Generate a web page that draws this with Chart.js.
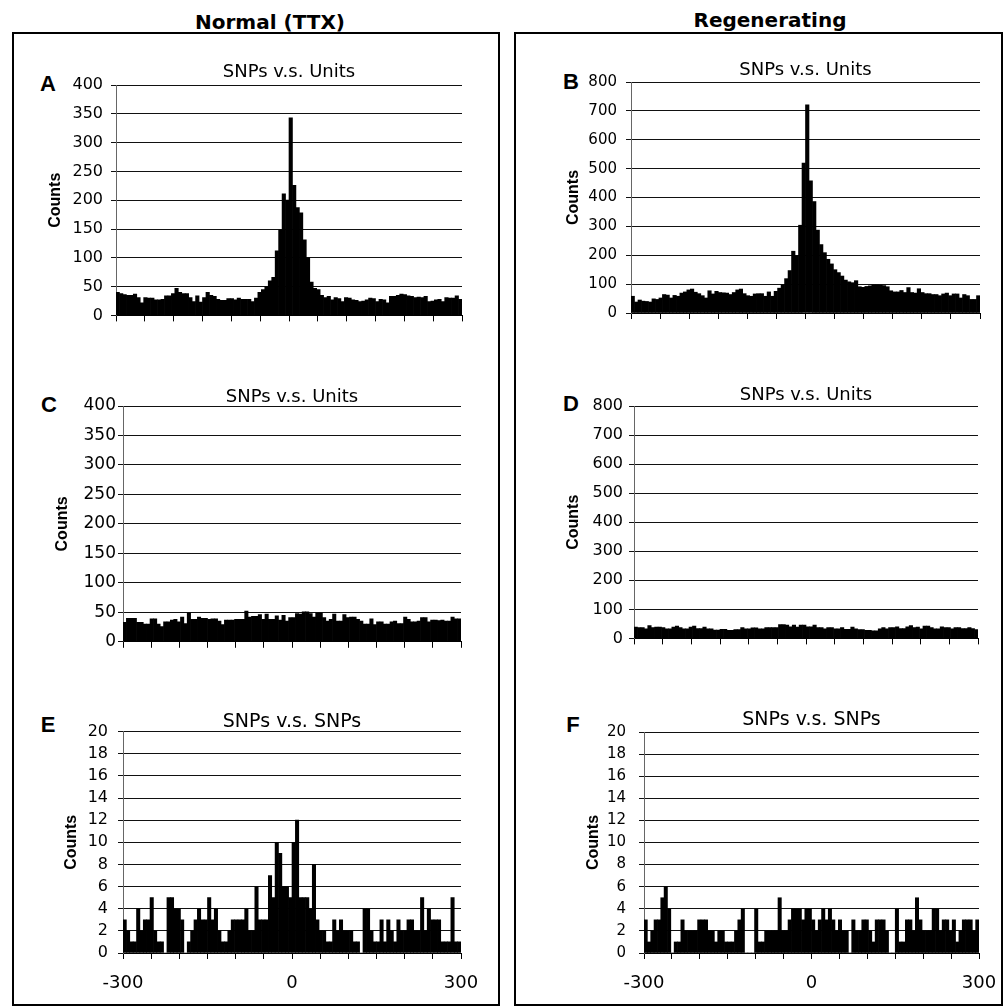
<!DOCTYPE html>
<html>
<head>
<meta charset="utf-8">
<script src="https://cdn.jsdelivr.net/npm/chart.js@4.4.1/dist/chart.umd.min.js"></script>
<style>
  body { margin: 0; background: #fff; }
  #page { position: relative; width: 1007px; height: 1007px; overflow: hidden; background: #fff; }
  .frame { position: absolute; border: 2px solid #000; box-sizing: border-box; }
  .lbl { position: absolute; transform: translate(-50%, -50%); line-height: 1; white-space: nowrap; color: #000; }
  .col { font-family: "DejaVu Sans", sans-serif; font-weight: bold; font-size: 20px; }
  .letter { font-family: "Liberation Sans", Arial, sans-serif; font-weight: bold; font-size: 22px; }
  canvas { position: absolute; }
</style>
</head>
<body>
<div id="page">
  <div class="frame" style="left:12px;top:32px;width:488px;height:974px"></div>
  <div class="frame" style="left:514px;top:32px;width:489px;height:974px"></div>
  <div class="lbl col" style="left:270px;top:22px">Normal (TTX)</div>
  <div class="lbl col" style="left:770px;top:20px">Regenerating</div>
  <div class="lbl letter" style="left:48px;top:84px">A</div>
  <div class="lbl letter" style="left:571px;top:82px">B</div>
  <div class="lbl letter" style="left:49px;top:405px">C</div>
  <div class="lbl letter" style="left:571px;top:404px">D</div>
  <div class="lbl letter" style="left:48px;top:725px">E</div>
  <div class="lbl letter" style="left:573px;top:725px">F</div>
  <canvas id="chartA"></canvas>
  <canvas id="chartB"></canvas>
  <canvas id="chartC"></canvas>
  <canvas id="chartD"></canvas>
  <canvas id="chartE"></canvas>
  <canvas id="chartF"></canvas>
</div>
<script>
// histogram bins: 100 bins of 6 ms from -300 to 300 (bin centres)
const BIN_START = -300;
const BIN_WIDTH = 6;
const binCenters = [];
for (let i = 0; i < 100; i++) {
  binCenters.push(BIN_START + BIN_WIDTH / 2 + i * BIN_WIDTH);
}
const xTickLabels = [-300, 0, 300];

// A - Normal (TTX), SNPs v.s. Units
const countsA = [40,38,36,35,35,37,31,22,31,30, 30,27,27,28,34,34,38,47,40,38,
  38,31,24,34,23,31,40,35,33,28, 26,26,29,29,27,30,28,28,28,24,
  30,40,45,50,60,66,112,148,211,200, 343,226,187,178,131,100,58,47,45,35,
  31,33,27,31,29,24,31,30,27,26, 24,25,27,30,29,24,28,27,22,33,
  33,35,37,36,34,33,31,32,31,33, 24,25,27,28,24,31,30,30,34,28];

// B - Regenerating, SNPs v.s. Units
const countsB = [58,38,45,41,40,38,49,47,52,64, 62,52,61,58,69,73,80,83,72,67,
  60,52,77,66,75,71,70,69,64,71, 80,83,67,60,58,66,67,67,58,73,
  58,75,86,97,119,147,214,198,304,519, 721,458,386,287,237,209,186,170,150,140,
  128,114,108,105,112,91,89,92,94,97, 97,96,95,91,77,73,73,78,71,88,
  71,69,84,71,67,67,64,64,60,66, 69,60,66,66,52,64,60,47,47,60];

// C - Normal (TTX), SNPs v.s. Units
const countsC = [33,40,40,40,33,33,30,30,39,39, 30,26,34,34,37,38,34,42,31,49,
  38,38,42,40,40,38,39,39,35,29, 37,37,37,38,38,38,52,42,43,43,
  46,38,47,38,38,44,37,45,35,41, 41,48,47,51,51,48,42,49,49,41,
  35,38,47,35,35,46,41,42,42,38, 35,30,30,39,29,34,34,30,30,34,
  35,31,31,42,38,34,34,35,41,41, 34,37,37,36,37,35,35,42,39,39];

// D - Regenerating, SNPs v.s. Units
const countsD = [39,37,37,33,44,37,39,39,37,33, 33,39,42,37,33,33,39,42,34,34,
  39,33,33,29,29,31,31,28,28,30, 30,37,33,33,36,36,33,33,37,37,
  37,37,48,48,46,40,46,39,46,46, 40,40,46,37,37,33,37,37,33,33,
  37,31,31,39,33,30,30,28,28,26, 26,33,37,33,37,37,40,34,34,40,
  44,37,39,33,42,42,37,33,33,40, 37,37,33,37,37,34,34,37,34,30];

// E - Normal (TTX), SNPs v.s. SNPs
const countsE = [3,2,1,1,4,2,3,3,5,2, 1,1,0,5,5,4,4,3,0,1,
  2,3,4,3,3,5,3,4,2,1, 1,2,3,3,3,3,4,2,2,6,
  3,3,3,7,5,10,9,6,6,5, 10,12,5,5,5,4,8,3,2,2,
  1,1,3,2,3,2,2,2,1,1, 0,4,4,2,1,1,3,1,3,2,
  1,3,2,2,3,3,2,2,5,2, 4,3,3,3,1,1,1,5,1,1];

// F - Regenerating, SNPs v.s. SNPs
const countsF = [3,1,2,3,3,5,6,4,0,1, 1,3,2,2,2,2,3,3,3,2,
  2,1,2,2,1,1,1,2,3,4, 0,0,0,4,1,1,2,2,2,2,
  5,2,2,3,4,4,4,3,4,4, 3,2,3,4,3,4,3,2,3,2,
  2,0,3,2,2,3,3,2,1,3, 3,3,2,0,0,4,1,1,3,3,
  2,5,3,2,2,2,4,4,2,3, 3,2,3,1,2,3,3,3,2,3];

// where each chart sits on the page (canvas box + axis sizes)
const panels = [
  { id: 'chartA', values: countsA, title: 'SNPs v.s. Units', yMax: 400, yStep: 50,
    left: 48, top: 63, width: 439, height: 270, yWidth: 68, xHeight: 10, padRight: 25,
    titleSize: 18, titlePad: 4, tickSize: 16, tickPad: 8, xLabels: false },
  { id: 'chartB', values: countsB, title: 'SNPs v.s. Units', yMax: 800, yStep: 100,
    left: 566, top: 61, width: 439, height: 270, yWidth: 65, xHeight: 10, padRight: 25,
    titleSize: 18, titlePad: 3, tickSize: 15, tickPad: 9, xLabels: false },
  { id: 'chartC', values: countsC, title: 'SNPs v.s. Units', yMax: 400, yStep: 50,
    left: 55, top: 388, width: 431, height: 266, yWidth: 68, xHeight: 10, padRight: 25,
    titleSize: 18, titlePad: 0, tickSize: 17, tickPad: 2, xLabels: false },
  { id: 'chartD', values: countsD, title: 'SNPs v.s. Units', yMax: 800, yStep: 100,
    left: 566, top: 386, width: 437, height: 268, yWidth: 68, xHeight: 10, padRight: 25,
    titleSize: 18, titlePad: 2, tickSize: 16, tickPad: 6, xLabels: false },
  { id: 'chartE', values: countsE, title: 'SNPs v.s. SNPs', yMax: 20, yStep: 2,
    left: 64, top: 712, width: 433, height: 286, yWidth: 59, xHeight: 45, padRight: 36,
    titleSize: 19, titlePad: 0, tickSize: 16, tickPad: 10, xLabels: true },
  { id: 'chartF', values: countsF, title: 'SNPs v.s. SNPs', yMax: 20, yStep: 2,
    left: 586, top: 710, width: 429, height: 288, yWidth: 58, xHeight: 45, padRight: 36,
    titleSize: 19, titlePad: 2, tickSize: 15, tickPad: 13, xLabels: true }
];

function makeHistogram(p) {
  const canvas = document.getElementById(p.id);
  canvas.width = p.width;
  canvas.height = p.height;
  canvas.style.left = p.left + 'px';
  canvas.style.top = p.top + 'px';

  const points = binCenters.map((x, i) => ({ x: x, y: p.values[i] }));

  return new Chart(canvas, {
    type: 'bar',
    data: {
      datasets: [{
        data: points,
        backgroundColor: '#000',
        borderWidth: 0,
        barPercentage: 1.0,
        categoryPercentage: 1.0
      }]
    },
    options: {
      responsive: false,
      animation: false,
      devicePixelRatio: 1,
      layout: { padding: { left: 0, top: 0, right: p.padRight, bottom: 0 } },
      plugins: {
        legend: { display: false },
        tooltip: { enabled: false },
        title: {
          display: true,
          text: p.title,
          fullSize: false,
          color: '#000',
          font: { family: 'DejaVu Sans', size: p.titleSize, weight: 'normal', lineHeight: 1 },
          padding: { top: 0, bottom: p.titlePad }
        }
      },
      scales: {
        x: {
          type: 'linear',
          min: -300,
          max: 300,
          offset: false,
          afterFit: (s) => { s.height = p.xHeight; },
          border: { display: true, color: '#000', width: 1 },
          grid: { display: true, offset: false, drawOnChartArea: false, drawTicks: true, tickLength: 6, color: '#000' },
          ticks: {
            stepSize: 50,
            autoSkip: false,
            maxRotation: 0,
            padding: 14,
            color: '#000',
            font: { family: 'DejaVu Sans', size: 18 },
            callback: (v) => (p.xLabels && xTickLabels.includes(v)) ? String(v) : ''
          }
        },
        y: {
          min: 0,
          max: p.yMax,
          afterFit: (s) => { s.width = p.yWidth; },
          border: { display: true, color: '#666', width: 1 },
          grid: { color: '#111', lineWidth: 1, drawTicks: true, tickLength: 5 },
          ticks: {
            stepSize: p.yStep,
            autoSkip: false,
            padding: p.tickPad,
            color: '#000',
            font: { family: 'DejaVu Sans', size: p.tickSize }
          },
          title: {
            display: true,
            text: 'Counts',
            color: '#000',
            padding: 0,
            font: { family: 'Liberation Sans', size: 16, weight: 'bold', lineHeight: 1 }
          }
        }
      }
    }
  });
}

const charts = panels.map(makeHistogram);
</script>
</body>
</html>
